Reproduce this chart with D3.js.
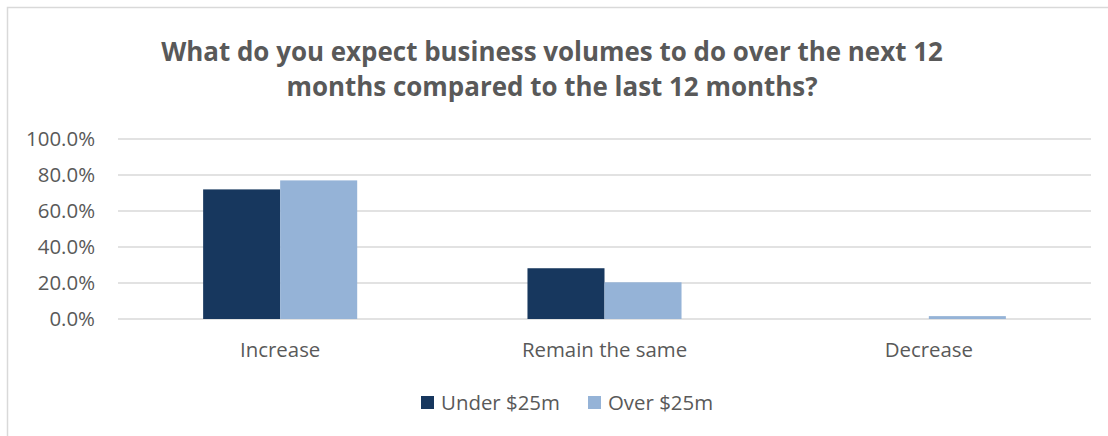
<!DOCTYPE html>
<html>
<head>
<meta charset="utf-8">
<script src="https://cdn.jsdelivr.net/npm/d3@7"></script>
<style>
  html, body { margin: 0; padding: 0; background: #ffffff; }
  svg { display: block; }
  text { font-family: "Open Sans", "Noto Sans", sans-serif; fill: #595959; }
</style>
</head>
<body>
<svg id="chart" width="1108" height="436"></svg>
<script>
// Survey answers, share of respondents by company size
const categories = ["Increase", "Remain the same", "Decrease"];
const seriesNames = ["Under $25m", "Over $25m"];
const under25m = [0.720, 0.282, 0.000];
const over25m = [0.770, 0.204, 0.016];
const yTicks = [0, 0.2, 0.4, 0.6, 0.8, 1.0];
const titleLines = [
  "What do you expect business volumes to do over the next 12",
  "months compared to the last 12 months?"
];

const colors = ["#17375E", "#95B3D7"];
const values = [under25m, over25m];

const svg = d3.select("#chart");

// scale a text element's font so a reference string spans the wanted width
function fitSize(sel, sample, width, base) {
  const probe = svg.append("text").attr("font-size", base)
    .attr("font-weight", sel.weight || null).text(sample);
  const w = probe.node().getComputedTextLength();
  probe.remove();
  return base * width / w;
}

const labelSize = fitSize({}, "Under $25m", 119, 20);
const titleSize = fitSize({ weight: "bold" }, titleLines[0], 782, 24);

// chart frame
svg.append("rect")
  .attr("x", 7.5).attr("y", 7.5)
  .attr("width", 1114).attr("height", 440)
  .attr("fill", "none").attr("stroke", "#d9d9d9").attr("stroke-width", 1.5);

const plot = { left: 118, right: 1091, top: 139, bottom: 319 };

const y = d3.scaleLinear().domain([0, 1]).range([plot.bottom, plot.top]);
const x0 = d3.scaleBand().domain(categories)
  .range([plot.left, plot.right])
  .paddingInner(0.525).paddingOuter(0.2625);
const x1 = d3.scaleBand().domain(seriesNames).range([0, x0.bandwidth()]);

// gridlines
svg.append("g")
  .selectAll("line")
  .data(yTicks)
  .join("line")
  .attr("x1", plot.left).attr("x2", plot.right)
  .attr("y1", d => y(d)).attr("y2", d => y(d))
  .attr("stroke", "#d9d9d9").attr("stroke-width", 1.5);

// y axis labels
const yAxis = d3.axisLeft(y).tickValues(yTicks).tickFormat(d3.format(".1%")).tickSize(0).tickPadding(23);
const gy = svg.append("g").attr("transform", `translate(${plot.left},0)`).call(yAxis);
gy.select(".domain").remove();
gy.selectAll("text").attr("font-size", labelSize).attr("fill", "#595959")
  .style("font-family", "'Open Sans', sans-serif");

// bars
const groups = svg.append("g").selectAll("g")
  .data(categories)
  .join("g")
  .attr("transform", d => `translate(${x0(d)},0)`);

groups.selectAll("rect")
  .data((c, i) => seriesNames.map((s, j) => ({ s, v: values[j][i], j })))
  .join("rect")
  .attr("x", d => x1(d.s))
  .attr("width", x1.bandwidth())
  .attr("y", d => y(d.v))
  .attr("height", d => y(0) - y(d.v))
  .attr("fill", d => colors[d.j]);

// category labels
const xAxis = d3.axisBottom(x0).tickSize(0).tickPadding(23);
const gx = svg.append("g").attr("transform", `translate(0,${plot.bottom})`).call(xAxis);
gx.select(".domain").remove();
gx.selectAll("text").attr("font-size", labelSize).attr("fill", "#595959")
  .style("font-family", "'Open Sans', sans-serif");

// title
svg.append("g").selectAll("text")
  .data(titleLines)
  .join("text")
  .attr("x", 552)
  .attr("y", (d, i) => 61 + i * 35)
  .attr("text-anchor", "middle")
  .attr("font-size", titleSize)
  .attr("font-weight", "bold")
  .text(d => d);

// legend
const legend = svg.append("g").attr("transform", "translate(421,396)");
const legendX = [0, 167];
const items = legend.selectAll("g")
  .data(seriesNames)
  .join("g")
  .attr("transform", (d, i) => `translate(${legendX[i]},0)`);
items.append("rect")
  .attr("width", 13).attr("height", 13)
  .attr("fill", (d, i) => colors[i]);
items.append("text")
  .attr("x", 20).attr("y", 13.5)
  .attr("font-size", labelSize)
  .text(d => d);
</script>
</body>
</html>
